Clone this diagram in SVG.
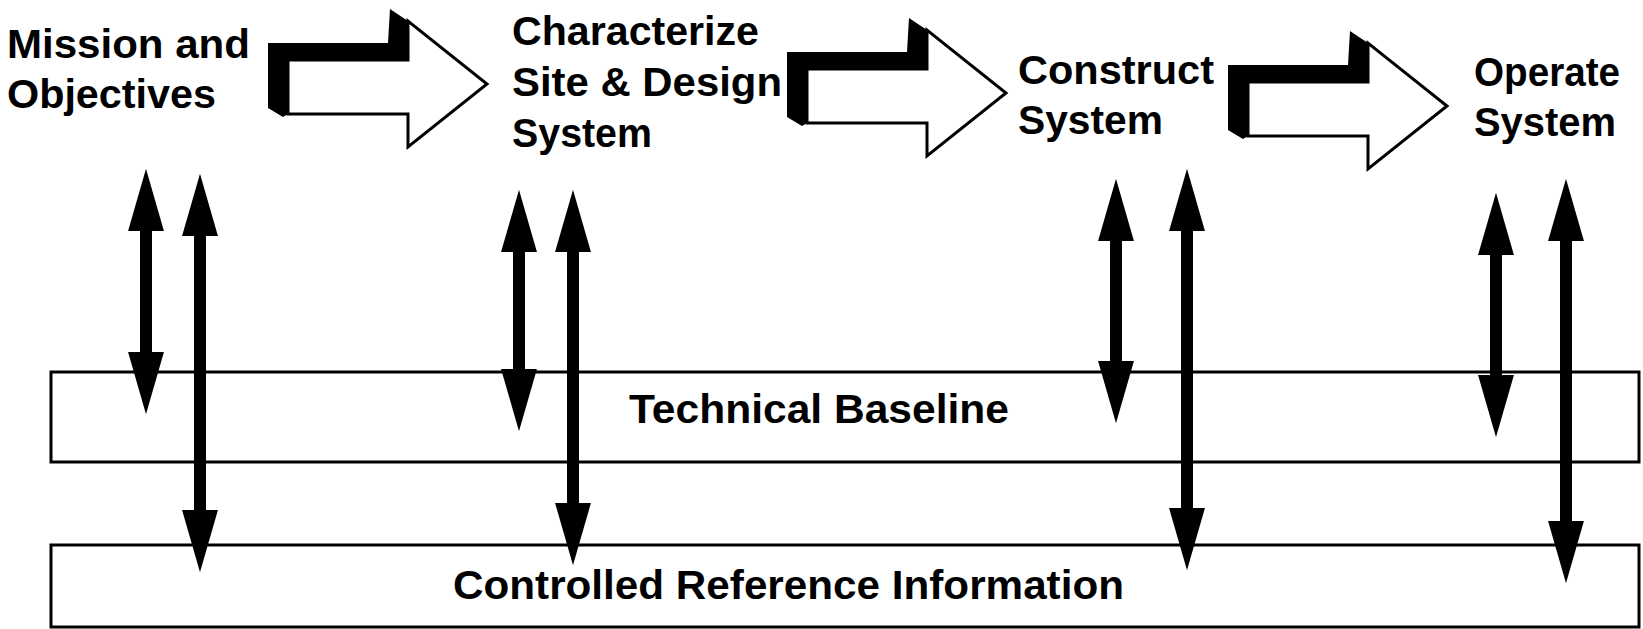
<svg xmlns="http://www.w3.org/2000/svg" xmlns:xlink="http://www.w3.org/1999/xlink" width="1643" height="629" viewBox="0 0 1643 629">
  <style>
    .label { font-family: "Liberation Sans", Arial, sans-serif; font-weight: bold; font-size: 40px; fill: #000; }
    .band { fill: #fff; stroke: #000; stroke-width: 3; }
    .link { stroke: #000; stroke-width: 12; fill: none; marker-start: url(#head); marker-end: url(#head); }
    .front { fill: #fff; stroke: #000; stroke-width: 3; stroke-linejoin: miter; }
    .shade { fill: #000; }
  </style>
  <defs>
    <marker id="head" viewBox="0 0 5.2 3" refX="0.1" refY="1.5" markerWidth="5.2" markerHeight="3" orient="auto-start-reverse" markerUnits="strokeWidth">
      <path d="M0,0 L5.2,1.5 L0,3 Z" fill="#000"/>
    </marker>
    <!-- extruded block arrow, origin at the front face's upper-left corner -->
    <g id="blockArrow">
      <path class="shade" d="M-20,-17 H100 L102,-51 L120,-39 V0 H0 V54 L-5,57 L-20,48 Z"/>
      <path class="front" d="M0,0 H120 V-39 L199,24 L120,87 V54 H0 Z"/>
    </g>
  </defs>

  <rect width="1643" height="629" fill="#fff"/>

  <!-- baseline bands -->
  <g id="technical-baseline">
    <rect class="band" x="51" y="372" width="1588" height="90"/>
    <text class="label" x="629" y="423" textLength="380" lengthAdjust="spacingAndGlyphs">Technical Baseline</text>
  </g>
  <g id="controlled-reference">
    <rect class="band" x="51" y="545" width="1588" height="82"/>
    <text class="label" x="453" y="599" textLength="671" lengthAdjust="spacingAndGlyphs">Controlled Reference Information</text>
  </g>

  <!-- lifecycle stages -->
  <g id="mission">
    <text class="label" x="7" y="58" textLength="243" lengthAdjust="spacingAndGlyphs">Mission and</text>
    <text class="label" x="7" y="108" textLength="209" lengthAdjust="spacingAndGlyphs">Objectives</text>
  </g>
  <g id="characterize">
    <text class="label" x="512" y="45" textLength="247" lengthAdjust="spacingAndGlyphs">Characterize</text>
    <text class="label" x="512" y="96" textLength="270" lengthAdjust="spacingAndGlyphs">Site &amp; Design</text>
    <text class="label" x="512" y="147" textLength="140" lengthAdjust="spacingAndGlyphs">System</text>
  </g>
  <g id="construct">
    <text class="label" x="1018" y="84" textLength="196" lengthAdjust="spacingAndGlyphs">Construct</text>
    <text class="label" x="1018" y="134" textLength="145" lengthAdjust="spacingAndGlyphs">System</text>
  </g>
  <g id="operate">
    <text class="label" x="1474" y="86" textLength="146" lengthAdjust="spacingAndGlyphs">Operate</text>
    <text class="label" x="1474" y="136" textLength="142" lengthAdjust="spacingAndGlyphs">System</text>
  </g>

  <!-- connectors -->
  <g id="connectors">
    <use xlink:href="#blockArrow" href="#blockArrow" transform="translate(288,60)"/>
    <use xlink:href="#blockArrow" href="#blockArrow" transform="translate(807,69)"/>
    <use xlink:href="#blockArrow" href="#blockArrow" transform="translate(1248,82)"/>

    <line class="link" x1="146" y1="230" x2="146" y2="353"/>
    <line class="link" x1="200" y1="235" x2="200" y2="511"/>

    <line class="link" x1="519" y1="251" x2="519" y2="370"/>
    <line class="link" x1="573" y1="251" x2="573" y2="504"/>

    <line class="link" x1="1116" y1="240" x2="1116" y2="362"/>
    <line class="link" x1="1187" y1="230" x2="1187" y2="509"/>

    <line class="link" x1="1496" y1="254" x2="1496" y2="376"/>
    <line class="link" x1="1566" y1="240" x2="1566" y2="522"/>
  </g>
</svg>
